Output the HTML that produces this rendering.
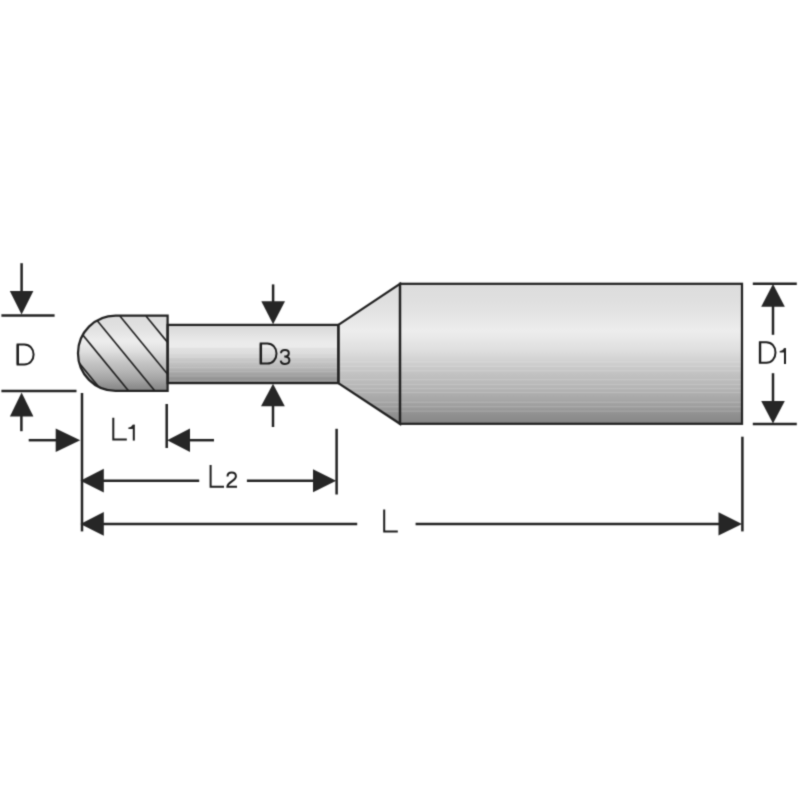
<!DOCTYPE html>
<html><head><meta charset="utf-8">
<style>
html,body{margin:0;padding:0;background:#fff;width:800px;height:800px;overflow:hidden}
svg{display:block}
</style></head>
<body>
<svg width="800" height="800" viewBox="0 0 800 800">
<defs>
<filter id="soft" x="0" y="0" width="800" height="800" filterUnits="userSpaceOnUse" color-interpolation-filters="sRGB"><feConvolveMatrix order="3" kernelMatrix="1 4 1 4 16 4 1 4 1" divisor="36" edgeMode="duplicate" preserveAlpha="true"/></filter>
<linearGradient id="gs" x1="0" y1="0" x2="0" y2="1">
<stop offset="0" stop-color="#d8d8d8"/>
<stop offset="0.03" stop-color="#dddddd"/>
<stop offset="0.12" stop-color="#dfdfdf"/>
<stop offset="0.2" stop-color="#e3e3e3"/>
<stop offset="0.27" stop-color="#e8e8e8"/>
<stop offset="0.335" stop-color="#ededed"/>
<stop offset="0.38" stop-color="#e9e9e9"/>
<stop offset="0.42" stop-color="#e4e4e4"/>
<stop offset="0.48" stop-color="#dedede"/>
<stop offset="0.51" stop-color="#d8d8d8"/>
<stop offset="0.58" stop-color="#cccccc"/>
<stop offset="0.65" stop-color="#c1c1c1"/>
<stop offset="0.72" stop-color="#b8b8b8"/>
<stop offset="0.79" stop-color="#adadad"/>
<stop offset="0.86" stop-color="#a1a1a1"/>
<stop offset="0.93" stop-color="#919191"/>
<stop offset="1" stop-color="#868686"/>
</linearGradient>
<linearGradient id="gn" x1="0" y1="0" x2="0" y2="1">
<stop offset="0" stop-color="#d6d6d6"/>
<stop offset="0.07" stop-color="#dcdcdc"/>
<stop offset="0.19" stop-color="#e4e4e4"/>
<stop offset="0.28" stop-color="#eaeaea"/>
<stop offset="0.385" stop-color="#ececec"/>
<stop offset="0.4" stop-color="#e1e1e1"/>
<stop offset="0.49" stop-color="#dddddd"/>
<stop offset="0.51" stop-color="#d7d7d7"/>
<stop offset="0.56" stop-color="#d4d4d4"/>
<stop offset="0.575" stop-color="#cbcbcb"/>
<stop offset="0.6" stop-color="#c8c8c8"/>
<stop offset="0.72" stop-color="#bababa"/>
<stop offset="0.84" stop-color="#a4a4a4"/>
<stop offset="0.93" stop-color="#939393"/>
<stop offset="1" stop-color="#8a8a8a"/>
</linearGradient>
<clipPath id="headclip"><path d="M115.6 315.6H167.6V390.9H115.6A37.65 37.65 0 0 1 115.6 315.6Z"/></clipPath>
<clipPath id="shankclip"><path d="M338.4 324.9L400 283.8H742V423.8H400L338.4 383.1Z"/></clipPath>
</defs>
<g filter="url(#soft)">
<rect width="800" height="800" fill="#fff"/>

<!-- tool body -->
<g stroke="none">
<rect x="400" y="283.8" width="342" height="140" fill="url(#gs)"/>
<path d="M338.4 324.9L400 283.8V423.8L338.4 383.1Z" fill="url(#gs)"/>
<rect x="167.6" y="324.9" width="170.8" height="58.2" fill="url(#gn)"/>
<path d="M115.6 315.6H167.6V390.9H115.6A37.65 37.65 0 0 1 115.6 315.6Z" fill="url(#gs)"/>
</g>
<g fill="#fff" fill-opacity="0.15" clip-path="url(#shankclip)">
<rect x="338" y="361.2" width="404" height="1.3"/>
<rect x="338" y="365.7" width="404" height="1.3"/>
<rect x="338" y="370.1" width="404" height="1.3"/>
<rect x="338" y="379.0" width="404" height="1.3"/>
<rect x="338" y="383.9" width="404" height="1.3"/>
<rect x="338" y="387.9" width="404" height="1.3"/>
<rect x="338" y="391.9" width="404" height="1.3"/>
<rect x="338" y="401.6" width="404" height="1.3"/>
<rect x="338" y="406.1" width="404" height="1.3"/>
<rect x="338" y="410.5" width="404" height="1.3"/>
</g>
<g fill="#fff" fill-opacity="0.13">
<rect x="167.7" y="361.4" width="170.3" height="1.2"/>
<rect x="167.7" y="367.1" width="170.3" height="1.2"/>
<rect x="167.7" y="371.0" width="170.3" height="1.2"/>
<rect x="167.7" y="375.4" width="170.3" height="1.2"/>
<rect x="167.7" y="379.8" width="170.3" height="1.2"/>
</g>
<g clip-path="url(#headclip)" stroke="#222" stroke-width="1.65">
<line x1="40.6" y1="316" x2="140.6" y2="438"/>
<line x1="67.2" y1="316" x2="167.2" y2="438"/>
<line x1="93.4" y1="316" x2="193.4" y2="438"/>
<line x1="119.9" y1="316" x2="219.9" y2="438"/>
<line x1="146.0" y1="316" x2="246.0" y2="438"/>
</g>
<g stroke="#222" stroke-width="2.25" stroke-linejoin="miter" fill="none">
<rect x="400" y="283.8" width="342" height="140"/>
<path d="M338.4 324.9L400 283.8V423.8L338.4 383.1Z"/>
<rect x="167.6" y="324.9" width="170.8" height="58.2"/>
<path d="M115.6 315.6H167.6V390.9H115.6A37.65 37.65 0 0 1 115.6 315.6Z"/>
</g>

<!-- dimension lines -->
<g stroke="#222" stroke-width="2.5" fill="none">
<!-- D -->
<line x1="21.6" y1="263.2" x2="21.6" y2="292"/>
<line x1="1.4" y1="315.6" x2="54.6" y2="315.6"/>
<line x1="1.4" y1="390.9" x2="76.5" y2="390.9"/>
<line x1="21.4" y1="415" x2="21.4" y2="431.2"/>
<!-- L1 -->
<line x1="28.7" y1="440.2" x2="57" y2="440.2"/>
<line x1="82" y1="393" x2="82" y2="531.4"/>
<line x1="166.7" y1="404" x2="166.7" y2="448"/>
<line x1="189" y1="440.2" x2="214" y2="440.2"/>
<!-- L2 -->
<line x1="102" y1="480.7" x2="199.2" y2="480.7"/>
<line x1="246.9" y1="480.7" x2="314" y2="480.7"/>
<line x1="336.6" y1="428.8" x2="336.6" y2="494.5"/>
<!-- L -->
<line x1="102" y1="523.9" x2="357.2" y2="523.9"/>
<line x1="415.6" y1="523.9" x2="720" y2="523.9"/>
<line x1="742.4" y1="436.7" x2="742.4" y2="531.4"/>
<!-- D3 -->
<line x1="273.1" y1="284.4" x2="273.1" y2="302"/>
<line x1="273" y1="405" x2="273" y2="427"/>
<!-- D1 -->
<line x1="752.8" y1="283.8" x2="796.8" y2="283.8"/>
<line x1="752.8" y1="423.9" x2="796.8" y2="423.9"/>
<line x1="773" y1="305" x2="773" y2="334.8"/>
<line x1="773" y1="373.2" x2="773" y2="402"/>
</g>
<g fill="#262626">
<!-- D arrows -->
<path d="M9.8 291H33.4L21.6 314.4Z"/>
<path d="M9.9 416.6H33.4L21.6 392.6Z"/>
<!-- L1 arrows -->
<path d="M55.7 428.4V452L80.2 440.2Z"/>
<path d="M190 428.5V452L167.2 440.2Z"/>
<!-- L2 arrows -->
<path d="M103.8 468.8V492.5L80.4 480.7Z"/>
<path d="M313 469.2V492.2L336.2 480.7Z"/>
<!-- L arrows -->
<path d="M103.8 512V535.8L80.4 523.9Z"/>
<path d="M718.5 512.2V535.6L742 523.9Z"/>
<!-- D3 arrows -->
<path d="M261.3 301.2H285L273.1 324.2Z"/>
<path d="M261 406.3H284.8L273 383.8Z"/>
<!-- D1 arrows -->
<path d="M761.2 306.8H784.8L773 284Z"/>
<path d="M761.2 401H784.8L773 423.6Z"/>
</g>

<!-- labels (stroked glyph paths) -->
<g fill="none" stroke="#1c1c1c" stroke-width="2.0" stroke-linecap="butt" stroke-linejoin="miter">
<!-- D (left) -->
<path d="M17.6 344.5H24.3C29.69 344.5 33.6 348.7 33.6 354.5C33.6 360.3 29.69 364.5 24.3 364.5H17.6Z"/><path d="M17.8 344.5V364.5" stroke-width="2.3"/>
<!-- D3 -->
<path d="M260.7 343.6H267.3C272.64 343.6 276.5 347.8 276.5 353.6C276.5 359.4 272.64 363.6 267.3 363.6H260.7Z"/><path d="M260.9 343.6V363.6" stroke-width="2.3"/>
<path d="M281 353.3C281.1 351.2 282.8 350.1 285 350.1C287.3 350.1 288.8 351.5 288.8 353.3C288.8 355.3 287 356.6 284.3 356.6C287.5 356.6 289.4 358.1 289.4 360.3C289.4 362.5 287.5 363.9 285 363.9C282.5 363.9 280.9 362.6 280.7 360.6"/>
<!-- D1 -->
<path d="M759.9 342.3H766.3C771.64 342.3 775.5 346.58 775.5 352.5C775.5 358.42 771.64 362.7 766.3 362.7H759.9Z"/><path d="M760.1 342.3V362.7" stroke-width="2.3"/>
<path d="M785 348.2V363.9"/>
<!-- L1 -->
<path d="M113.3 417.8V439.5H126.8"/>
<path d="M133.8 424.8V440.6"/>
<!-- L2 -->
<path d="M210.6 465V486.7H224"/>
<path d="M227.5 476.5C227.5 473.8 229.3 472.5 231.7 472.5C234.2 472.5 235.9 474.1 235.9 476.3C235.9 478.6 234 479.9 231.8 481.3C229.5 482.8 227.6 484.2 227.4 486.7H237"/>
<!-- L -->
<path d="M384.2 509.6V531.4H397.8"/>
</g>
<g fill="#262626">
<path d="M786.1 348.2H783.9C782.9 349.9 781.5 350.8 779.7 351V352.5H783.9Z"/>
<path d="M134.9 424.8H132.7C131.7 426.4 130.3 427.4 128.4 427.6V429.1H132.7Z"/>
</g>
</g>
</svg>
</body></html>
